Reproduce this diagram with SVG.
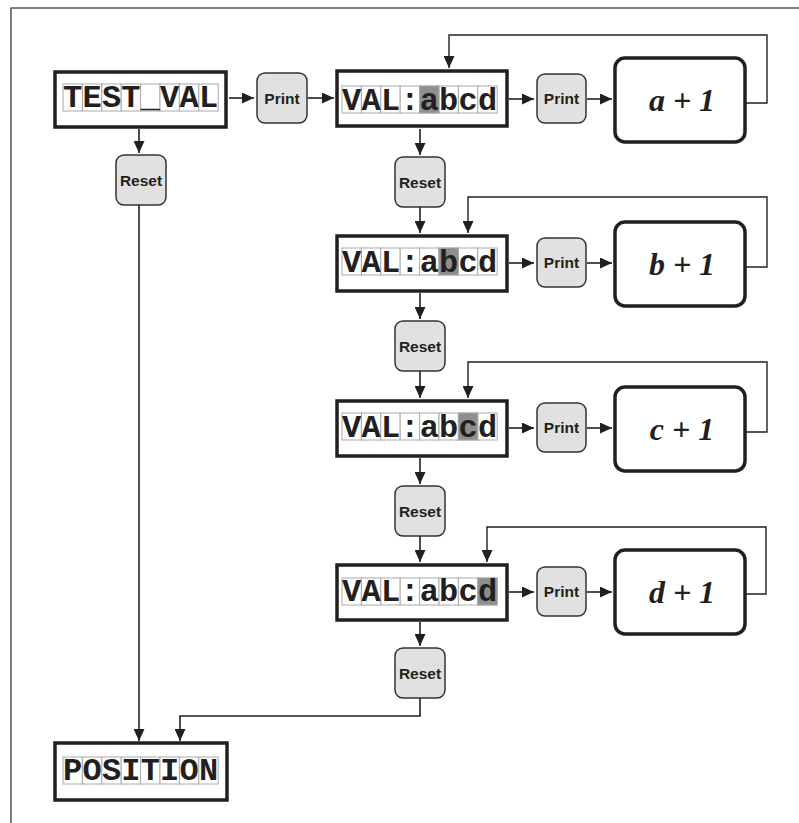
<svg xmlns="http://www.w3.org/2000/svg" width="799" height="823" viewBox="0 0 799 823">
<style>
.frame{fill:none;stroke:#555;stroke-width:1.5}
.box{fill:#fff;stroke:#231f20;stroke-width:3.5}
.cell{fill:#fff;stroke:#aaa;stroke-width:1}
.hl{fill:#8e8e8e;stroke:#aaa;stroke-width:1}
.mono{font-family:"Liberation Mono","DejaVu Sans Mono",monospace;font-weight:bold;font-size:32px;fill:#231f20;text-anchor:middle}
.btn{fill:#e1e1e1;stroke:#333;stroke-width:1.5}
.btxt{font-family:"Liberation Sans",Arial,sans-serif;font-weight:bold;font-size:15.5px;fill:#231f20;text-anchor:middle}
.op{fill:#fff;stroke:#231f20;stroke-width:3.5}
.optxt{font-family:"Liberation Serif","Times New Roman",serif;font-weight:bold;font-style:italic;font-size:32px;fill:#231f20;text-anchor:middle}
.ln{fill:none;stroke:#231f20;stroke-width:1.6}
.fb{fill:none;stroke:#231f20;stroke-width:1.4}
</style>
<defs>
<marker id="ah" markerUnits="userSpaceOnUse" markerWidth="12" markerHeight="11" refX="12" refY="5.5" orient="auto">
<path d="M0,0 L12,5.5 L0,11 z" fill="#231f20"/>
</marker>
<g id="cells8">
<rect class="cell" x="0" y="0" width="19.4" height="27"/>
<rect class="cell" x="19.4" y="0" width="19.4" height="27"/>
<rect class="cell" x="38.8" y="0" width="19.4" height="27"/>
<rect class="cell" x="58.2" y="0" width="19.4" height="27"/>
<rect class="cell" x="77.6" y="0" width="19.4" height="27"/>
<rect class="cell" x="97" y="0" width="19.4" height="27"/>
<rect class="cell" x="116.4" y="0" width="19.4" height="27"/>
<rect class="cell" x="135.8" y="0" width="19.4" height="27"/>
</g>
</defs>

<path class="frame" d="M11,823 V8 H799"/>

<g id="test_val">
<rect class="box" x="55" y="72" width="171" height="55"/>
<use href="#cells8" x="63" y="84"/>
<text class="mono" x="72.7 92.1 111.5 130.9 150.3 169.7 189.1 208.5" y="107">TEST_VAL</text>
</g>

<g id="print0">
<rect class="btn" x="257" y="73" width="50" height="50" rx="8"/>
<text class="btxt" x="282" y="103.5">Print</text>
</g>

<g id="reset0">
<rect class="btn" x="116" y="155" width="50" height="50" rx="8"/>
<text class="btxt" x="141" y="186">Reset</text>
</g>

<g id="position">
<rect class="box" x="55" y="743" width="172" height="57"/>
<use href="#cells8" x="63" y="757"/>
<text class="mono" x="72.7 92.1 111.5 130.9 150.3 169.7 189.1 208.5" y="780">POSITION</text>
</g>

<!-- row 1 -->
<g id="val_a">
<rect class="box" x="337" y="71" width="170" height="55"/>
<use href="#cells8" x="342" y="86"/>
<rect class="hl" x="419.6" y="86" width="19.4" height="27"/>
<text class="mono" x="351.7 371.1 390.5 409.9 429.3 448.7 468.1 487.5" y="110">VAL:abcd</text>
</g>
<g id="print_a">
<rect class="btn" x="537" y="74" width="49" height="49" rx="8"/>
<text class="btxt" x="561.5" y="104">Print</text>
</g>
<g id="op_a">
<rect class="op" x="615" y="58" width="130" height="84" rx="10"/>
<text class="optxt" x="682" y="111">a + 1</text>
</g>
<g id="reset_a">
<rect class="btn" x="395" y="157" width="50" height="50" rx="8"/>
<text class="btxt" x="420" y="188">Reset</text>
</g>

<!-- row 2 -->
<g id="val_b">
<rect class="box" x="337" y="236" width="170" height="55"/>
<use href="#cells8" x="342" y="248"/>
<rect class="hl" x="439" y="248" width="19.4" height="27"/>
<text class="mono" x="351.7 371.1 390.5 409.9 429.3 448.7 468.1 487.5" y="272">VAL:abcd</text>
</g>
<g id="print_b">
<rect class="btn" x="537" y="238" width="49" height="49" rx="8"/>
<text class="btxt" x="561.5" y="268">Print</text>
</g>
<g id="op_b">
<rect class="op" x="615" y="222" width="130" height="84" rx="10"/>
<text class="optxt" x="682" y="275">b + 1</text>
</g>
<g id="reset_b">
<rect class="btn" x="395" y="321" width="50" height="50" rx="8"/>
<text class="btxt" x="420" y="352">Reset</text>
</g>

<!-- row 3 -->
<g id="val_c">
<rect class="box" x="337" y="401" width="170" height="55"/>
<use href="#cells8" x="342" y="413"/>
<rect class="hl" x="458.4" y="413" width="19.4" height="27"/>
<text class="mono" x="351.7 371.1 390.5 409.9 429.3 448.7 468.1 487.5" y="437">VAL:abcd</text>
</g>
<g id="print_c">
<rect class="btn" x="537" y="403" width="49" height="49" rx="8"/>
<text class="btxt" x="561.5" y="433">Print</text>
</g>
<g id="op_c">
<rect class="op" x="615" y="387" width="130" height="84" rx="10"/>
<text class="optxt" x="682" y="440">c + 1</text>
</g>
<g id="reset_c">
<rect class="btn" x="395" y="486" width="50" height="50" rx="8"/>
<text class="btxt" x="420" y="517">Reset</text>
</g>

<!-- row 4 -->
<g id="val_d">
<rect class="box" x="337" y="565" width="170" height="55"/>
<use href="#cells8" x="342" y="578"/>
<rect class="hl" x="477.8" y="578" width="19.4" height="27"/>
<text class="mono" x="351.7 371.1 390.5 409.9 429.3 448.7 468.1 487.5" y="601">VAL:abcd</text>
</g>
<g id="print_d">
<rect class="btn" x="537" y="567" width="49" height="49" rx="8"/>
<text class="btxt" x="561.5" y="597">Print</text>
</g>
<g id="op_d">
<rect class="op" x="615" y="550" width="130" height="84" rx="10"/>
<text class="optxt" x="682" y="603">d + 1</text>
</g>
<g id="reset_d">
<rect class="btn" x="395" y="648" width="50" height="50" rx="8"/>
<text class="btxt" x="420" y="679">Reset</text>
</g>

<g id="connectors">
<path class="ln" d="M229,98 H254" marker-end="url(#ah)"/>
<path class="ln" d="M308,98 H334" marker-end="url(#ah)"/>
<path class="ln" d="M139,129 V153" marker-end="url(#ah)"/>
<path class="ln" d="M139,205 V741" marker-end="url(#ah)"/>

<path class="ln" d="M509,99 H534" marker-end="url(#ah)"/>
<path class="ln" d="M587,99 H612" marker-end="url(#ah)"/>
<path class="fb" d="M746,103 H767 V35 H449 V68" marker-end="url(#ah)"/>
<path class="ln" d="M420,129 V155" marker-end="url(#ah)"/>
<path class="ln" d="M420,207 V233" marker-end="url(#ah)"/>

<path class="ln" d="M509,263 H534" marker-end="url(#ah)"/>
<path class="ln" d="M587,263 H612" marker-end="url(#ah)"/>
<path class="fb" d="M746,267 H767 V197 H468 V233" marker-end="url(#ah)"/>
<path class="ln" d="M420,293 V319" marker-end="url(#ah)"/>
<path class="ln" d="M420,371 V398" marker-end="url(#ah)"/>

<path class="ln" d="M509,428 H534" marker-end="url(#ah)"/>
<path class="ln" d="M587,428 H612" marker-end="url(#ah)"/>
<path class="fb" d="M746,432 H767 V362 H468 V398" marker-end="url(#ah)"/>
<path class="ln" d="M420,458 V484" marker-end="url(#ah)"/>
<path class="ln" d="M420,536 V562" marker-end="url(#ah)"/>

<path class="ln" d="M509,592 H534" marker-end="url(#ah)"/>
<path class="ln" d="M587,592 H612" marker-end="url(#ah)"/>
<path class="fb" d="M746,594 H766 V527 H487 V562" marker-end="url(#ah)"/>
<path class="ln" d="M420,622 V646" marker-end="url(#ah)"/>
<path class="ln" d="M420,698 V716 H180 V741" marker-end="url(#ah)"/>
</g>
</svg>
